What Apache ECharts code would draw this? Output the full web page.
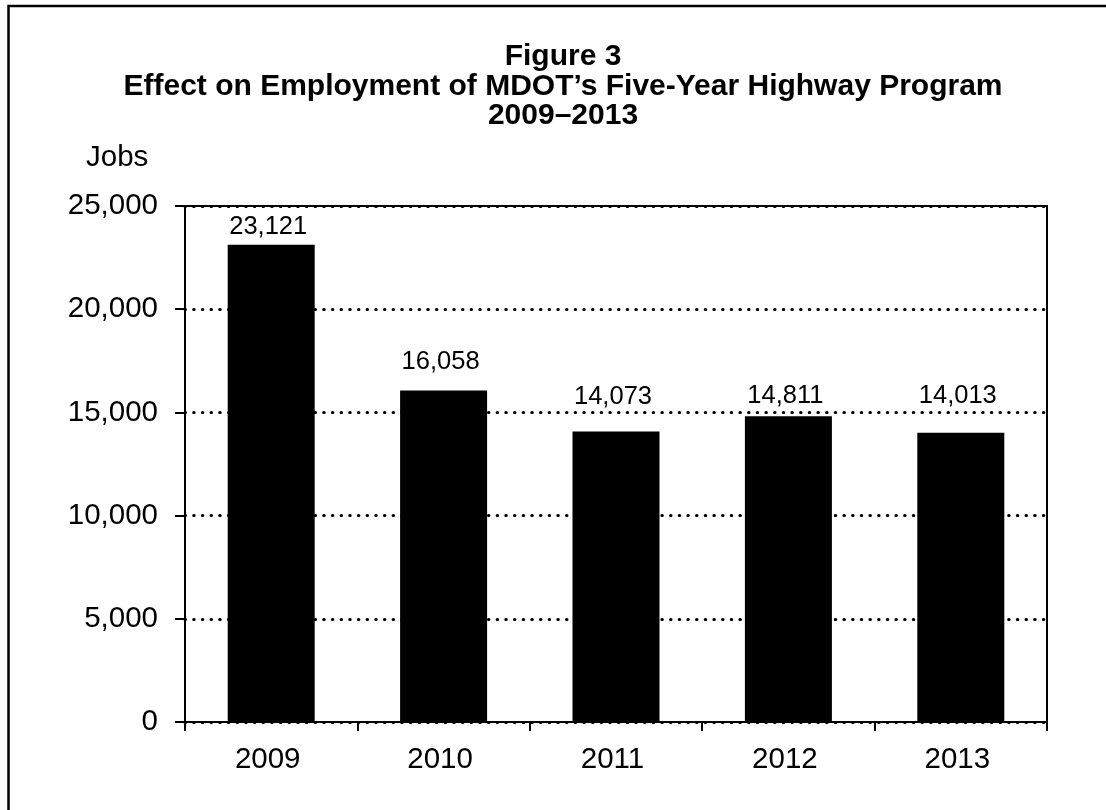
<!DOCTYPE html>
<html>
<head>
<meta charset="utf-8">
<script src="https://cdn.jsdelivr.net/npm/echarts@6/dist/echarts.min.js"></script>
<style>
html,body{margin:0;padding:0;background:#fff;}
#chart{width:1106px;height:810px;}
</style>
</head>
<body>
<div id="chart"></div>
<script>
var categories = ['2009', '2010', '2011', '2012', '2013'];
var jobs = [23121, 16058, 14073, 14811, 14013];
var titleLines = ['Figure 3', 'Effect on Employment of MDOT\u2019s Five-Year Highway Program', '2009\u20132013'];
var yAxisName = 'Jobs';
var yMin = 0, yMax = 25000, yStep = 5000;

// label lift above each bar (px), as placed in the original
var labelLift = [5, 16, 22, 7, 24];

var FONT = '"Liberation Sans", Arial, sans-serif';
var chart = echarts.init(document.getElementById('chart'));
chart.setOption({
  backgroundColor: '#fff',
  animation: false,
  title: {
    text: titleLines.join('\n'),
    left: 563,
    top: 42,
    textAlign: 'center',
    padding: 0,
    textStyle: {fontFamily: FONT, fontSize: 30, fontWeight: 'bold', color: '#000', lineHeight: 29.5}
  },
  graphic: [
    {type: 'rect', shape: {x: 8.5, y: 6, width: 1300, height: 1000}, style: {fill: null, stroke: '#000', lineWidth: 2.5}, silent: true},
    {type: 'text', x: 86, y: 158, style: {text: yAxisName, font: '29.5px ' + FONT, fill: '#000', textVerticalAlign: 'middle', verticalAlign: 'middle'}}
  ],
  grid: {left: 185, right: 59, top: 206, bottom: 88, show: true, borderColor: '#000', borderWidth: 2, backgroundColor: 'transparent'},
  xAxis: {
    type: 'category',
    data: categories,
    axisLine: {lineStyle: {color: '#000', width: 2}},
    axisTick: {show: true, length: 9, lineStyle: {color: '#000', width: 2}},
    axisLabel: {color: '#000', fontFamily: FONT, fontSize: 29.5, margin: 23, padding: [0, 7, 0, 0]}
  },
  yAxis: {
    type: 'value',
    min: yMin, max: yMax, interval: yStep,
    axisLine: {show: true, lineStyle: {color: '#000', width: 2}},
    axisTick: {show: true, length: 10, lineStyle: {color: '#000', width: 2}},
    axisLabel: {color: '#000', fontFamily: FONT, fontSize: 29.5, margin: 27,
      formatter: function (v) { return v.toLocaleString('en-US'); }},
    splitLine: {show: true, lineStyle: {color: '#000', width: 3, type: [0.5, 8.17], cap: 'round'}}
  },
  series: [{
    type: 'bar',
    data: jobs.map(function (v, i) {
      return {value: v, label: {distance: labelLift[i]}};
    }),
    barWidth: 87,
    itemStyle: {color: '#000'},
    label: {show: true, position: 'top', distance: 5, color: '#000', fontFamily: FONT, fontSize: 25.5, padding: [0, 6, 0, 0],
      formatter: function (p) { return p.value.toLocaleString('en-US'); }}
  }]
});
</script>
</body>
</html>
